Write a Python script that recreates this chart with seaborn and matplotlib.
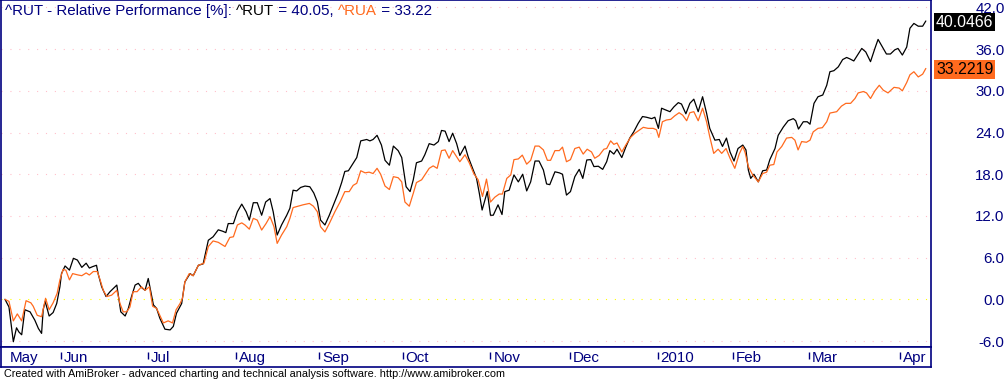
import numpy as np
import pandas as pd
import matplotlib
matplotlib.use('Agg')
import matplotlib.pyplot as plt
import seaborn as sns

# trading calendar (AmiBroker spaces bars evenly, weekends/holidays skipped)
start_date = '2009-05-11'
end_date = '2010-04-12'
holidays = ['2009-05-25', '2009-07-03', '2009-09-07', '2009-11-26', '2009-12-25',
            '2010-01-01', '2010-01-18', '2010-02-15', '2010-04-02']
month_labels = ['May', 'Jun', 'Jul', 'Aug', 'Sep', 'Oct', 'Nov', 'Dec', '2010', 'Feb', 'Mar', 'Apr']

# ^RUT relative performance [%], bar number -> value
rut_bar = [0.0, 1.0, 2.1, 2.9, 3.5, 4.2, 5.0, 6.3, 7.5, 8.4, 9.2, 9.6, 10.1, 11.1, 12.1, 13.0,
           13.8, 14.2, 15.1, 16.2, 17.2, 18.2, 19.3, 20.4, 21.2, 22.0, 23.0, 23.4, 24.3, 25.4,
           26.4, 28.1, 29.1, 30.2, 31.0, 31.8, 32.7, 33.5, 34.3, 35.2, 36.0, 37.3, 38.1, 38.9,
           40.2, 41.5, 42.3, 43.1, 44.4, 45.2, 46.5, 47.3, 48.6, 49.8, 51.1, 52.3, 53.6, 54.7,
           55.5, 56.1, 57.4, 58.4, 59.5, 60.6, 61.4, 62.4, 63.4, 64.5, 65.5, 66.6, 67.4, 68.4,
           69.5, 70.8, 71.6, 72.4, 73.3, 74.3, 75.4, 76.6, 77.6, 78.5, 79.3, 80.4, 81.5, 82.7,
           83.7, 84.6, 85.4, 86.3, 87.4, 88.4, 89.4, 90.9, 91.7, 92.5, 93.5, 94.6, 95.5, 96.6,
           97.6, 98.8, 99.7, 100.8, 101.8, 102.6, 103.4, 104.7, 105.5, 106.6, 107.8, 108.9,
           109.7, 110.6, 111.6, 112.5, 113.5, 114.3, 115.6, 116.4, 117.5, 118.5, 119.2, 119.9,
           120.6, 121.2, 122.0, 122.7, 123.9, 124.9, 125.6, 126.7, 127.9, 129.0, 130.1, 131.1,
           132.1, 133.2, 134.2, 135.3, 136.1, 136.9, 138.2, 139.3, 140.1, 141.1, 142.1, 143.2,
           144.3, 145.2, 146.2, 147.2, 148.0, 149.1, 150.2, 151.2, 152.0, 153.0, 153.8, 155.0,
           156.0, 157.0, 158.0, 159.1, 160.2, 161.2, 162.5, 163.3, 164.2, 165.0, 165.8, 167.1,
           168.1, 169.2, 170.0, 171.1, 172.1, 173.1, 174.2, 175.3, 176.3, 177.1, 178.4, 179.5,
           180.3, 181.3, 182.2, 183.2, 184.2, 185.4, 186.2, 186.8, 187.4, 188.2, 189.3, 190.4,
           191.4, 192.2, 193.5, 194.3, 195.6, 196.8, 198.1, 198.7, 199.4, 200.6, 201.6, 202.3,
           203.3, 204.3, 205.5, 206.5, 207.3, 208.3, 209.4, 210.5, 211.5, 212.3, 213.3, 214.4,
           215.3, 216.3, 217.5, 218.6, 219.4, 220.5, 221.5, 222.5, 223.6, 224.4, 225.5, 226.6,
           227.4, 228.4, 229.5, 230.6, 231.4]
rut_pct = [0.0, -1.1, -6.1, -4.1, -4.7, -5.1, -1.5, -1.8, -3.0, -4.2, -4.9, -1.5, -0.3, -2.4, -1.9, -0.6,
           1.8, 3.7, 4.8, 4.2, 5.9, 5.65, 4.6, 5.2, 4.5, 4.7, 4.9, 3.7, 1.8, 0.4,
           1.1, 2.05, -1.8, -2.4, -1.3, 0.4, 2.05, 2.3, 1.7, 1.3, 3.0, -0.8, -1.3, -2.7,
           -4.3, -4.4, -3.9, -2.0, -0.6, 2.5, 3.7, 3.4, 4.9, 5.1, 8.5, 9.0, 10.0, 9.8,
           9.6, 10.9, 10.9, 12.6, 13.7, 12.6, 11.4, 13.9, 13.9, 12.1, 14.0, 14.5, 12.6, 9.25,
           10.7, 12.1, 13.1, 15.7, 15.6, 16.1, 16.3, 16.2, 15.3, 14.0, 11.4, 10.7, 12.1, 13.8,
           15.25, 16.8, 18.4, 18.5, 19.5, 20.4, 22.8, 23.0, 22.8, 23.0, 23.6, 22.2, 20.0, 19.3,
           22.05, 21.4, 20.4, 16.2, 15.5, 17.2, 19.65, 19.9, 20.8, 22.4, 22.2, 22.7,
           24.3, 24.2, 22.7, 23.9, 22.4, 20.7, 22.05, 20.5, 18.85, 17.4, 15.25, 12.85,
           14.3, 15.5, 12.1, 12.1, 13.6, 12.2, 15.5, 15.7, 17.9, 16.9, 18.0, 15.6,
           16.9, 19.9, 19.9, 18.6, 16.6, 16.5, 18.35, 18.2, 18.0, 15.0, 15.5, 17.65,
           18.7, 17.4, 20.05, 20.1, 19.1, 19.15, 18.7, 19.8, 21.4, 20.9, 21.6, 20.4,
           21.9, 23.2, 24.1, 25.3, 26.3, 26.2, 26.0, 26.2, 24.6, 27.5, 27.3, 27.0,
           27.7, 28.3, 28.1, 26.7, 28.2, 28.8, 27.0, 29.15, 26.8, 24.6, 22.9, 23.0,
           22.0, 23.2, 21.2, 19.9, 21.7, 22.2, 21.5, 18.6, 17.4, 18.0, 16.9, 18.5,
           18.6, 20.1, 21.7, 23.6, 24.8, 25.7, 26.0, 25.7, 24.5, 25.55, 25.55, 25.2,
           28.2, 29.15, 29.4, 30.8, 32.75, 32.9, 33.45, 34.5, 34.8, 34.6, 34.3, 35.3,
           36.1, 35.6, 34.2, 36.1, 37.4, 36.3, 35.3, 35.3, 35.9, 36.1, 35.15, 36.3,
           39.0, 39.7, 39.3, 39.3, 40.05]

# ^RUA relative performance [%]
rua_bar = [0.0, 1.0, 2.1, 3.1, 4.2, 5.3, 6.5, 7.1, 8.1, 9.2, 10.2, 11.1, 12.1, 13.1, 13.8, 14.6,
           15.3, 16.2, 17.0, 18.4, 19.3, 20.4, 21.2, 22.2, 23.2, 23.9, 24.7, 25.6, 26.8, 28.1,
           28.9, 29.7, 30.6, 31.4, 32.2, 33.2, 34.3, 35.2, 36.3, 37.1, 38.1, 38.9, 39.8, 41.0,
           42.1, 43.0, 44.0, 44.6, 45.2, 46.3, 47.3, 48.6, 50.0, 51.1, 52.3, 53.6, 55.3, 56.5,
           57.4, 58.4, 59.5, 60.3, 61.4, 62.4, 63.4, 64.5, 65.6, 66.6, 67.6, 68.4, 69.5, 70.8,
           71.6, 72.4, 73.7, 74.9, 76.5, 77.5, 78.5, 79.3, 80.4, 81.5, 82.9, 84.2, 85.4, 86.5,
           87.5, 88.4, 89.4, 90.5, 91.5, 92.5, 93.5, 94.4, 95.5, 96.6, 97.6, 98.8, 99.7, 100.5,
           101.6, 102.6, 103.4, 104.7, 105.5, 106.6, 107.6, 108.6, 109.7, 110.6, 111.6, 112.5,
           113.5, 114.3, 115.6, 116.7, 117.8, 118.9, 120.0, 121.0, 122.0, 123.1, 124.2, 125.0,
           126.1, 127.1, 127.9, 129.0, 130.0, 131.1, 132.1, 133.2, 134.2, 135.3, 136.3, 137.1,
           138.2, 139.3, 140.1, 141.1, 142.1, 143.2, 144.3, 145.3, 146.3, 147.4, 148.2, 149.3,
           150.5, 151.2, 152.2, 153.0, 153.8, 155.0, 156.0, 157.2, 158.3, 159.4, 160.4, 161.6,
           162.9, 163.7, 164.3, 165.2, 166.2, 167.3, 168.3, 169.4, 170.3, 171.3, 172.1, 173.1,
           174.2, 175.3, 176.3, 177.1, 178.1, 179.2, 180.1, 181.2, 182.2, 183.4, 184.5, 185.4,
           186.0, 186.8, 187.9, 189.3, 190.4, 191.4, 192.2, 193.2, 194.0, 195.2, 196.4, 197.7,
           198.5, 199.3, 200.2, 201.4, 202.3, 203.1, 204.3, 205.4, 206.5, 207.3, 209.0, 210.2,
           211.3, 212.5, 213.6, 214.4, 215.7, 216.5, 217.5, 218.6, 219.7, 220.7, 221.9, 223.4,
           224.7, 225.5, 226.6, 227.4, 228.4, 229.5, 230.6, 231.4]
rua_pct = [0.0, -0.3, -3.1, -2.1, -3.1, -0.2, -0.5, -1.0, -2.3, -2.5, 0.15, -1.5, -0.5, 0.85, 2.8, 4.3,
           4.2, 2.8, 3.7, 3.5, 3.4, 3.8, 3.5, 4.0, 4.0, 2.8, 1.3, 0.4, 0.6, 1.3,
           -0.6, -1.8, -1.8, -1.1, 1.1, 1.1, 1.8, 1.3, 1.8, -1.0, -1.3, -2.3, -3.4, -3.1,
           -3.4, -1.5, -0.6, 0.15, 2.5, 3.7, 3.4, 4.9, 5.2, 7.6, 8.4, 8.2, 7.6, 8.9,
           9.0, 10.7, 11.0, 10.7, 10.1, 11.65, 11.4, 9.97, 10.9, 11.9, 10.45, 8.05, 9.25, 10.45,
           11.65, 13.2, 13.4, 13.6, 13.8, 13.4, 12.6, 10.45, 9.7, 10.9, 12.6, 14.0, 15.5, 15.5,
           16.4, 16.7, 18.5, 18.2, 18.3, 18.1, 18.85, 18.0, 16.3, 15.8, 17.65, 17.5, 16.9, 14.0,
           13.4, 15.25, 16.8, 17.2, 17.9, 18.85, 19.2, 18.85, 21.4, 21.5, 20.3, 21.4,
           20.5, 19.8, 20.8, 19.6, 18.1, 17.2, 14.8, 17.3, 14.0, 14.7, 15.15, 15.15,
           17.4, 17.9, 20.1, 20.2, 20.75, 19.45, 20.0, 22.05, 22.05, 21.5, 20.0, 20.0,
           21.4, 21.4, 21.9, 19.8, 20.1, 21.7, 21.9, 20.9, 21.6, 21.2, 20.3, 20.7,
           21.6, 21.7, 22.8, 22.3, 22.5, 21.2, 22.2, 23.3, 23.9, 24.35, 24.75, 24.6,
           24.6, 24.4, 23.3, 25.55, 25.8, 25.9, 26.4, 26.85, 26.5, 25.7, 26.85, 27.0,
           25.7, 27.5, 25.55, 23.4, 21.0, 21.6, 21.0, 21.7, 20.3, 18.85, 20.9, 22.0,
           21.1, 19.1, 17.9, 16.9, 18.1, 18.3, 19.3, 19.4, 21.2, 22.0, 23.2, 23.3,
           22.9, 21.5, 22.7, 22.6, 22.9, 24.1, 24.6, 24.7, 25.55, 26.8, 27.0, 27.8,
           28.2, 28.2, 28.9, 29.7, 29.9, 29.7, 28.9, 30.0, 30.8, 30.1, 29.7, 30.5,
           30.4, 30.0, 31.2, 32.3, 32.75, 32.0, 32.4, 33.22]

rut_last = 40.0466
rua_last = 33.2219
y_ticks = [-6, 0, 6, 12, 18, 24, 30, 36, 42]

NAVY = '#000080'
ORANGE = '#FF6A1E'

sns.set_style('white')
plt.rcParams['font.family'] = ['Liberation Sans', 'DejaVu Sans']

days = pd.bdate_range(start_date, end_date, freq='C', holidays=holidays)
month_start = np.flatnonzero(days.month != np.roll(days.month, 1))
month_start[0] = 0

fig = plt.figure(figsize=(10.08, 3.8), dpi=100)
ax = fig.add_axes([1 / 1008, 33 / 380, 930 / 1008, 347 / 380])

for v in y_ticks:
    ax.axhline(v, color='#FFFF00' if v == 0 else '#FFC0CB', lw=0.8, ls=(0, (1, 7)), zorder=0)

sns.lineplot(x=rut_bar, y=rut_pct, color='black', lw=0.9, ax=ax, estimator=None, sort=False)
sns.lineplot(x=rua_bar, y=rua_pct, color=ORANGE, lw=0.9, ax=ax, estimator=None, sort=False)

ax.set_xlim(-1.0, 232.7)
ax.set_ylim(-6.86, 43.07)
ax.set_xticks([])
ax.yaxis.tick_right()
ax.set_yticks(y_ticks)
ax.set_yticklabels([f'{v:.1f}' for v in y_ticks])
ax.tick_params(axis='y', length=0, pad=53, labelcolor=NAVY, labelsize=10.8)
for lab in ax.get_yticklabels():
    lab.set_horizontalalignment('right')
for sp in ax.spines.values():
    sp.set_color(NAVY)
    sp.set_linewidth(1.2)

# last value boxes on the right
for val, fg, bg in [(rut_last, 'white', 'black'), (rua_last, 'black', ORANGE)]:
    ax.annotate(f'{val:.4f}', xy=(1, val), xycoords=('axes fraction', 'data'),
                xytext=(5, -1), textcoords='offset pixels', va='center', ha='left',
                color=fg, fontsize=11.4, annotation_clip=False,
                bbox=dict(boxstyle='square,pad=0.11', fc=bg, ec='none'))

# title in pieces with their own colours
t = fig.text(5 / 1008, 1 - 11 / 380, '^RUT - Relative Performance [%]: ', color=NAVY,
             va='center', fontsize=10.9)
for s, c in [('^RUT', 'black'), (f' = {rut_last:.2f}, ', NAVY), ('^RUA', ORANGE),
             (f' = {rua_last:.2f}', NAVY)]:
    t = ax.annotate(s, xy=(1, 0), xycoords=t, va='bottom', ha='left', color=c, fontsize=10.9,
                    annotation_clip=False)

# date strip
ax2 = fig.add_axes([1 / 1008, 13 / 380, 930 / 1008, 20 / 380], facecolor='white')
ax2.set_xlim(ax.get_xlim())
ax2.set_ylim(0, 1)
ax2.set_xticks([])
ax2.set_yticks([])
for sp in ax2.spines.values():
    sp.set_color(NAVY)
    sp.set_linewidth(1.2)
ax2.vlines(month_start[1:], 0.42, 0.75, color=NAVY, lw=1)
for pos, lab in zip(month_start, month_labels):
    off = 1.3 if pos == 0 else 0.7
    ax2.text(pos + off, 0.45, lab, color=NAVY, fontsize=10.9, va='center', ha='left', clip_on=True)

fig.text(4 / 1008, 1 - 374 / 380, 'Created with AmiBroker - advanced charting and technical analysis '
         'software. http://www.amibroker.com', fontsize=7.8, va='center', color='black')

fig.savefig('out.png', dpi=100, facecolor='white')
